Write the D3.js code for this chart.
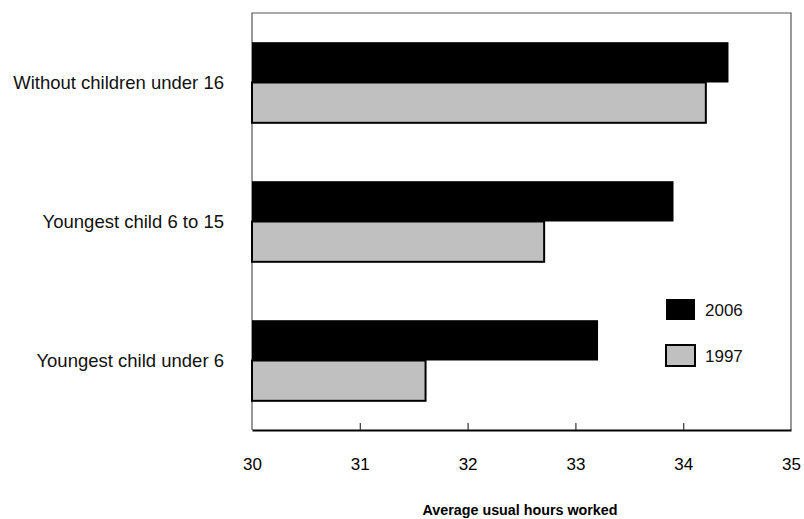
<!DOCTYPE html>
<html><head><meta charset="utf-8">
<script src="https://cdn.jsdelivr.net/npm/d3@7"></script>
<style>body{margin:0;background:#fff}svg{display:block}text{font-family:Arial,"Liberation Sans",sans-serif}</style>
</head><body><svg id="c" width="804" height="519"></svg>
<script>
const categories = ["Without children under 16", "Youngest child 6 to 15", "Youngest child under 6"];
const series = ["2006", "1997"];
const values2006 = [34.42, 33.91, 33.21];
const values1997 = [34.21, 32.71, 31.61];
const xTicks = [30, 31, 32, 33, 34, 35];
const colors = {"2006": "#000000", "1997": "#c0c0c0"};
const axisTitle = "Average usual hours worked";

const svg = d3.select("#c");
const m = {l: 252, r: 791, t: 13, b: 430};
const x = d3.scaleLinear().domain([30, 35]).range([m.l, m.r]);
const y = d3.scaleBand().domain(categories).range([m.t, m.b]).paddingInner(0.42).paddingOuter(0.21);
const ys = d3.scaleBand().domain(series).range([0, y.bandwidth()]);
const data = categories.map((c, i) => ({c, v: {"2006": values2006[i], "1997": values1997[i]}}));

// frame
svg.append("path").attr("d", `M${m.l},${m.b}V${m.t}H${m.r}V${m.b}`).attr("fill", "none").attr("stroke", "#555").attr("stroke-width", 1.2);

// bars
const g = svg.append("g");
data.forEach(d => {
  series.forEach(s => {
    g.append("rect")
      .attr("x", x(30)).attr("y", y(d.c) + ys(s))
      .attr("width", x(d.v[s]) - x(30)).attr("height", ys.bandwidth())
      .attr("fill", colors[s])
      .attr("stroke", s === "1997" ? "#000" : "none").attr("stroke-width", 2);
  });
});

// x axis
const ax = svg.append("g").attr("transform", `translate(0,${m.b})`)
  .call(d3.axisBottom(x).tickValues(xTicks).tickSize(0).tickPadding(28).tickFormat(d3.format("d")));
ax.select(".domain").attr("stroke", "#000").attr("stroke-width", 2);
ax.selectAll("text").attr("font-size", 17).attr("fill", "#000");
ax.selectAll(".tick").filter(d => d > 30 && d < 35).append("line")
  .attr("y1", 0).attr("y2", -7).attr("stroke", "#333").attr("stroke-width", 1.2);

// y labels
svg.append("g").selectAll("text").data(categories).join("text")
  .attr("x", 224).attr("y", d => y(d) + y.bandwidth() / 2).attr("dy", "0.35em")
  .attr("text-anchor", "end").attr("font-size", 18.5).attr("fill", "#111").text(d => d);

// axis title
svg.append("text").attr("x", 520).attr("y", 515).attr("text-anchor", "middle")
  .attr("font-size", 14.3).attr("font-weight", "bold").text(axisTitle);

// legend
const lg = svg.append("g");
series.forEach((s, i) => {
  const yy = 299 + i * 46;
  lg.append("rect").attr("x", 666).attr("y", yy).attr("width", 29).attr("height", 21)
    .attr("fill", colors[s]).attr("stroke", "#000").attr("stroke-width", s === "1997" ? 2 : 0);
  lg.append("text").attr("x", 705).attr("y", yy + 11).attr("dy", "0.35em")
    .attr("font-size", 17).attr("fill", "#111").text(s);
});
</script></body></html>
